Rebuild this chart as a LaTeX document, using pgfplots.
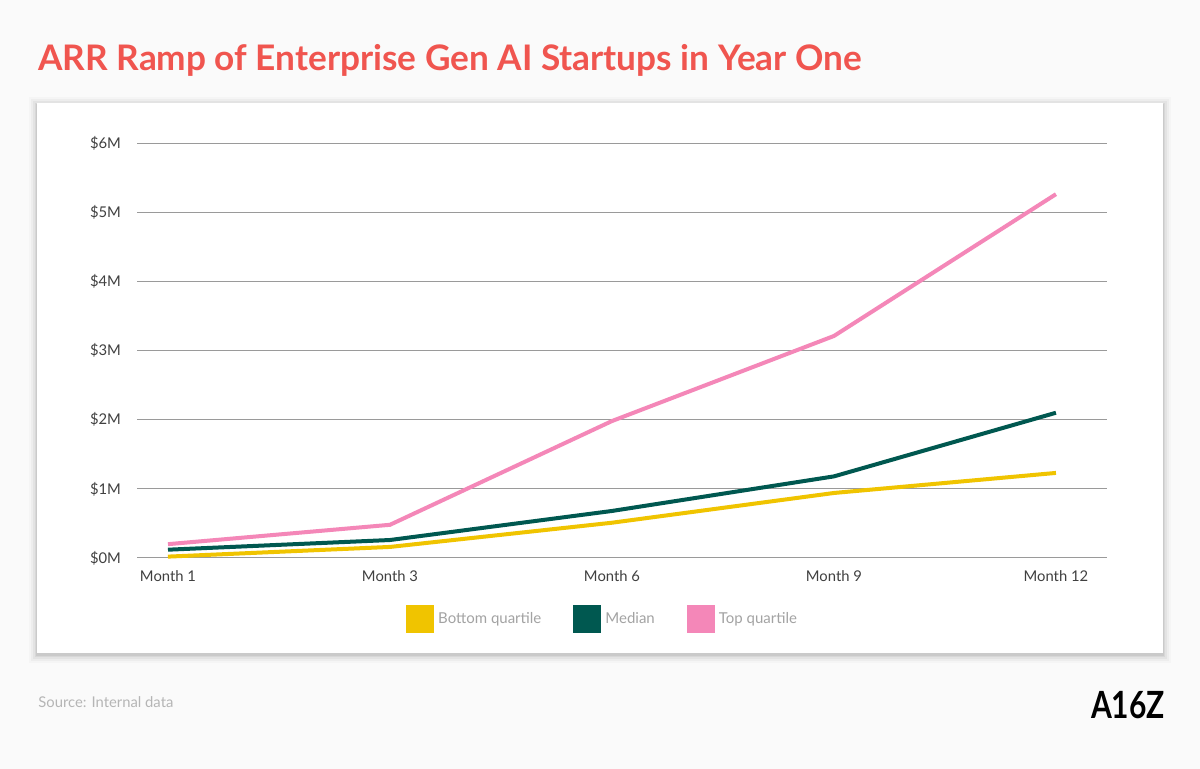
\documentclass[border=0pt]{standalone}
\usepackage{pgfplots}
\pgfplotsset{compat=1.18}
\usepackage{fontspec}
\setmainfont{Lato}
\usepackage{graphicx}
\definecolor{bg}{HTML}{FAFAFA}
\definecolor{titlec}{HTML}{F0554F}
\definecolor{botc}{HTML}{F0C400}
\definecolor{medc}{HTML}{005850}
\definecolor{topc}{HTML}{F487B8}
\definecolor{gridc}{HTML}{9A9A9A}
\definecolor{tickc}{HTML}{404040}
\definecolor{legc}{HTML}{A3A3A3}
\definecolor{srcc}{HTML}{B5B5B5}
\begin{document}
\begin{tikzpicture}
\begin{scope}[x=0.5pt,y=-0.5pt]
\fill[bg] (0,0) rectangle (1200,769);
\useasboundingbox (0,0) rectangle (1200,769);
% card shadow
\foreach \d/\o in {8/0.02,6/0.03,4/0.04,2/0.05,1/0.06}{
  \fill[black,opacity=\o] (37-\d,103-\d+2) rectangle (1163+\d,653+\d+2);
}
\fill[white] (37,103) rectangle (1163,653);
% title
\node[anchor=base west,inner sep=0,text=titlec,font=\fontsize{17.6}{19}\selectfont\bfseries] at (38,71) {ARR Ramp of Enterprise Gen AI Startups in Year One};
% source
\node[anchor=west,inner sep=0,text=srcc,font=\fontsize{7.4}{8}\selectfont] at (38,702) {Source: Internal data};
% logo
\node[anchor=center,inner sep=0] at (1128,705.5) {\scalebox{1}[1.25]{\fontsize{15}{16}\selectfont\bfseries A16Z}};
\end{scope}
\begin{axis}[
  at={(68.5pt,-279pt)}, anchor=south west,
  scale only axis, width=485pt, height=207.5pt,
  xmin=-0.1396, xmax=4.23, ymin=0, ymax=6,
  axis line style={draw=none},
  major tick length=0pt,
  ymajorgrids, grid style={gridc, line width=0.5pt},
  xtick={0,1,2,3,4},
  xticklabels={Month 1, Month 3, Month 6, Month 9, Month 12},
  ytick={0,1,2,3,4,5,6},
  yticklabels={\$0M,\$1M,\$2M,\$3M,\$4M,\$5M,\$6M},
  tick label style={font=\fontsize{7.4}{8}\selectfont, text=tickc},
  yticklabel style={xshift=-4.5pt},
  xticklabel style={yshift=-3pt},
  legend columns=3,
  legend style={at={(0.481,-0.147)}, anchor=center, draw=none, fill=none,
    font=\fontsize{7.5}{8}\selectfont, text=legc,
    /tikz/every even column/.append style={column sep=14pt}},
  legend image code/.code={\fill[#1] (0pt,-6pt) rectangle (12pt,6pt);},
  clip=false,
]
\addplot[color=botc, line width=2pt] coordinates {(0,0.02) (1,0.16) (2,0.51) (3,0.94) (4,1.23)};
\addlegendentry{Bottom quartile}
\addplot[color=medc, line width=2pt] coordinates {(0,0.12) (1,0.26) (2,0.68) (3,1.18) (4,2.10)};
\addlegendentry{Median}
\addplot[color=topc, line width=2pt] coordinates {(0,0.20) (1,0.48) (2,1.98) (3,3.21) (4,5.26)};
\addlegendentry{Top quartile}
\end{axis}
\end{tikzpicture}
\end{document}
